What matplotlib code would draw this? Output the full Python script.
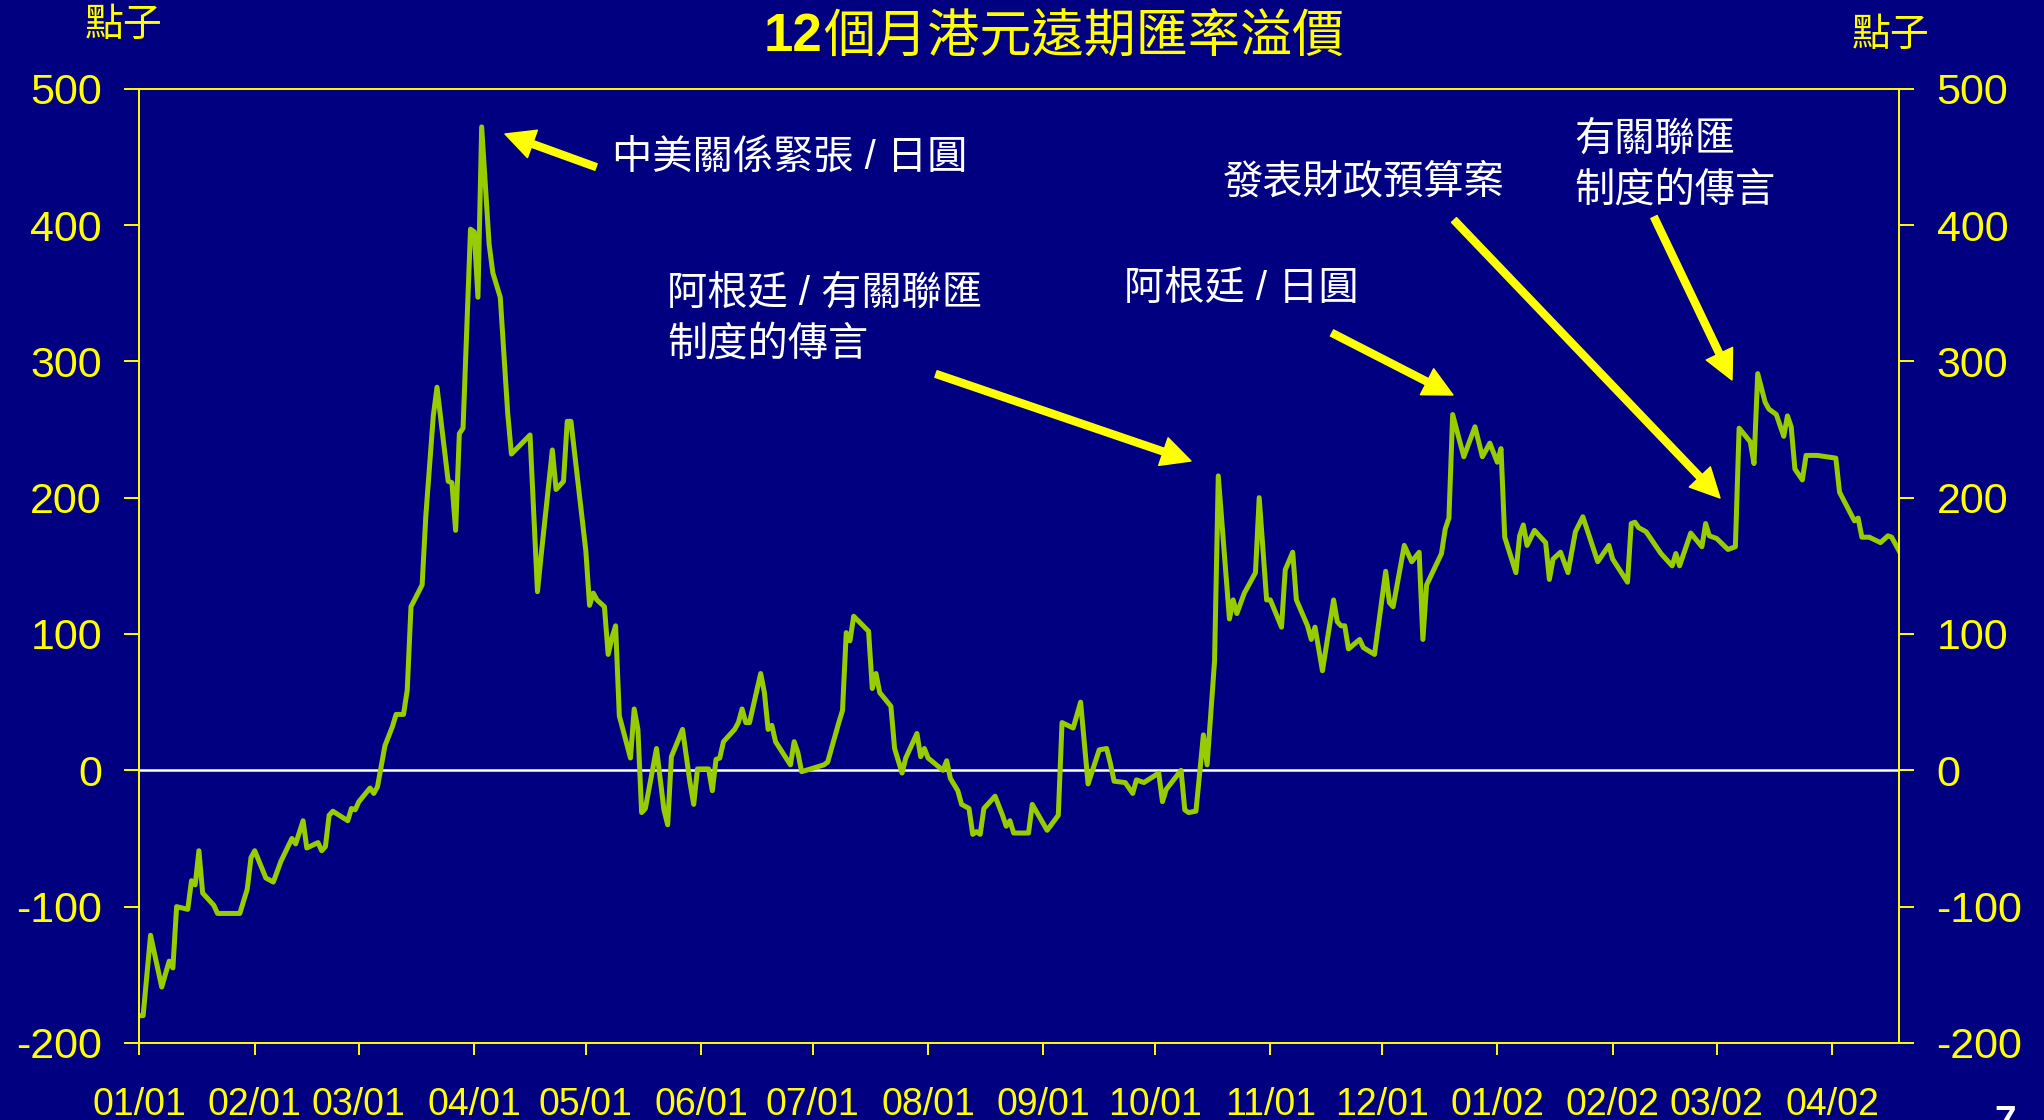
import pandas as pd
import matplotlib
matplotlib.use('Agg')
import matplotlib.pyplot as plt
import matplotlib.dates as mdates

plt.rcParams['font.family'] = ['Liberation Sans', 'Noto Sans CJK TC']
plt.rcParams['axes.unicode_minus'] = False

# 12-month HKD forward premium (points), day offsets from 2001-01-01
start = '2001-01-01'
days = [0, 1, 3, 6, 8, 9, 10, 13, 14, 15,
        16, 17, 20, 21, 27, 28, 29, 30, 31, 34,
        36, 38, 41, 42, 44, 45, 48, 49, 50, 51,
        52, 56, 57, 58, 59, 62, 63, 64, 66, 68,
        69, 71, 72, 73, 76, 77, 79, 80, 83, 84,
        85, 86, 87, 89, 90, 91, 92, 94, 95, 97,
        99, 100, 105, 107, 108, 111, 112, 114, 115, 116,
        120, 121, 122, 123, 125, 126, 127, 128, 129, 132,
        133, 134, 135, 136, 139, 141, 142, 143, 146, 148,
        149, 150, 153, 154, 155, 156, 157, 160, 161, 162,
        163, 164, 167, 168, 169, 170, 171, 175, 176, 177,
        178, 184, 185, 188, 189, 190, 191, 192, 196, 197,
        198, 199, 202, 203, 205, 206, 209, 210, 211, 212,
        216, 217, 218, 220, 221, 223, 224, 225, 226, 227,
        230, 232, 233, 234, 235, 239, 240, 244, 247, 248,
        251, 253, 255, 258, 260, 261, 262, 265, 267, 268,
        270, 274, 275, 276, 280, 281, 282, 284, 286, 287,
        289, 290, 293, 294, 295, 297, 300, 301, 303, 304,
        307, 308, 310, 311, 314, 315, 316, 318, 321, 322,
        323, 324, 325, 328, 329, 332, 335, 336, 337, 340,
        342, 344, 345, 346, 350, 351, 352, 353, 356, 359,
        361, 363, 365, 366, 367, 370, 371, 372, 373, 375,
        378, 379, 380, 382, 384, 386, 388, 392, 395, 396,
        400, 401, 402, 403, 405, 409, 412, 413, 414, 417,
        420, 421, 422, 424, 427, 429, 430, 433, 434, 435,
        437, 438, 440, 442, 443, 444, 445, 447, 448, 451,
        456, 457, 461, 462, 463, 465, 468, 470, 471, 473]
premium = [-180, -180, -121, -159, -140, -145, -100, -102, -81, -84,
           -59, -90, -99, -105, -105, -96, -87, -64, -59, -79,
           -82, -67, -50, -54, -37, -57, -53, -59, -56, -33,
           -30, -37, -28, -29, -23, -13, -17, -12, 18, 32,
           41, 41, 59, 120, 136, 187, 260, 281, 212, 211,
           176, 247, 251, 397, 395, 347, 472, 386, 365, 347,
           262, 232, 246, 131, 158, 235, 206, 212, 256, 256,
           161, 121, 130, 125, 120, 85, 97, 106, 40, 9,
           45, 30, -31, -28, 16, -29, -40, 10, 30, -9,
           -25, 1, 1, -15, 8, 9, 21, 30, 35, 45,
           35, 35, 71, 57, 30, 33, 21, 4, 21, 13,
           -1, 4, 6, 35, 44, 101, 95, 113, 102, 60,
           71, 57, 47, 16, -2, 9, 27, 10, 16, 9,
           0, 7, -6, -15, -25, -28, -47, -45, -47, -28,
           -19, -33, -41, -37, -46, -46, -25, -44, -33, 35,
           31, 50, -10, 15, 16, 5, -8, -9, -17, -7,
           -9, -2, -23, -14, 0, -29, -31, -30, 26, 4,
           80, 216, 111, 125, 115, 130, 145, 200, 125, 125,
           105, 147, 160, 125, 106, 96, 105, 73, 125, 109,
           106, 106, 89, 96, 90, 85, 146, 123, 120, 165,
           153, 160, 96, 136, 159, 177, 185, 261, 230, 252,
           230, 240, 226, 236, 171, 145, 172, 180, 165, 176,
           167, 140, 155, 160, 145, 175, 186, 153, 165, 155,
           138, 181, 182, 178, 175, 159, 150, 159, 150, 174,
           164, 181, 172, 170, 162, 164, 251, 241, 225, 291,
           270, 265, 261, 245, 260, 252, 221, 213, 231, 231,
           229, 204, 183, 185, 171, 171, 167, 172, 171, 161]
assert len(days) == len(premium)

title_num = '12'
title_text = '個月港元遠期匯率溢價'
unit = '點子'
notes = ['中美關係緊張 / 日圓',
         '阿根廷 / 有關聯匯\n制度的傳言',
         '阿根廷 / 日圓',
         '發表財政預算案',
         '有關聯匯\n制度的傳言']

navy = '#000080'
yellow = '#FFFF00'
green = '#99CC00'

dates = pd.Timestamp(start) + pd.to_timedelta(days, unit='D')

fig = plt.figure(figsize=(20.44, 11.2), dpi=100, facecolor=navy)
ax = fig.add_axes([0.0682, 0.0688, 0.8609, 0.852])
ax.set_facecolor(navy)

ax.axhline(0, color='white', lw=1.8, zorder=1)
ax.plot(dates, premium, color=green, lw=3.6, zorder=2)

for s in ax.spines.values():
    s.set_color(yellow)
    s.set_linewidth(1.4)

ax.set_ylim(-200, 500)
ax.set_yticks(range(-200, 501, 100))
ax.set_xlim(pd.Timestamp('2001-01-01'), pd.Timestamp('2002-04-19'))
ax.xaxis.set_major_locator(mdates.MonthLocator())
ax.xaxis.set_major_formatter(mdates.DateFormatter('%m/%y'))
ax.tick_params(axis='x', colors=yellow, labelsize=27, length=8.5, width=1.4, pad=23)
ax.tick_params(axis='y', colors=yellow, labelsize=31, length=11, width=1.4, pad=16,
               right=True, labelright=True)

# title: bold number + CJK text
fig.text(0.4025, 0.967, title_num, color=yellow, fontsize=38, fontweight='bold',
         ha='right', va='center')
fig.text(0.4025, 0.967, title_text, color=yellow, fontsize=37.5, ha='left', va='center',
         family=['Noto Sans CJK TC'])

fig.text(0.0606, 0.9777, unit, color=yellow, fontsize=28, ha='center', va='center',
         family=['Noto Sans CJK TC'])
fig.text(0.9247, 0.969, unit, color=yellow, fontsize=28, ha='center', va='center',
         family=['Noto Sans CJK TC'])


def fp(x, y):
    return (x / 2044, 1 - y / 1120)


text_pos = [(612, 158), (667, 319), (1124, 289), (1223, 182), (1574, 165)]
arrows = [((596, 167), (505, 134)),
          ((936, 374), (1191, 461)),
          ((1332, 333), (1453, 395)),
          ((1454, 220), (1720, 498)),
          ((1654, 217), (1732, 380))]

for t, (x, y) in zip(notes, text_pos):
    fx, fy = fp(x, y)
    fig.text(fx, fy, t, color='white', fontsize=29, ha='left', va='center',
             linespacing=1.42)

for tail, tip in arrows:
    ax.annotate('', xy=fp(*tip), xytext=fp(*tail),
                xycoords='figure fraction', textcoords='figure fraction',
                arrowprops=dict(facecolor=yellow, edgecolor=yellow, width=5,
                                headwidth=21, headlength=21, shrink=0))

fig.text(0.981, 0.0134, '7', color='white', fontsize=28, fontweight='bold',
         ha='center', va='top')

fig.savefig('out.png', dpi=100, facecolor=navy)
